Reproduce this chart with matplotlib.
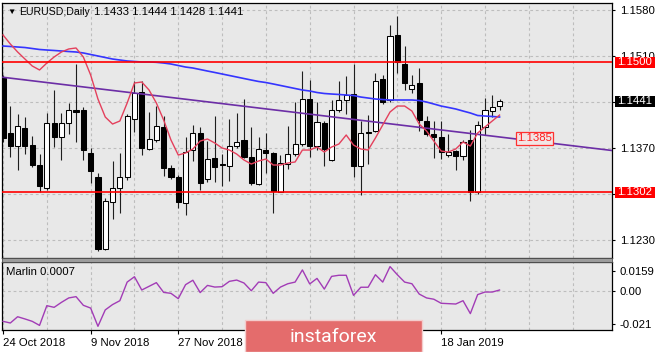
import matplotlib
matplotlib.use("Agg")
import matplotlib.pyplot as plt
import matplotlib.transforms as mtransforms
from matplotlib.patches import Rectangle
import numpy as np

plt.rcParams['font.family'] = ['Liberation Sans', 'DejaVu Sans']
plt.rcParams['font.size'] = 8.2

# ---------------- data ----------------
symbol = "EURUSD,Daily"
last_ohlc = "1.1433 1.1444 1.1428 1.1441"
indicator_name = "Marlin 0.0007"

opens = [1.1476, 1.1392, 1.1373, 1.1400, 1.1374, 1.1343, 1.1308, 1.1407, 1.1387, 1.1407,
         1.1427, 1.1427, 1.1362, 1.1325, 1.1215, 1.1288, 1.1308, 1.1325, 1.1413, 1.1455,
         1.1368, 1.1382, 1.1402, 1.1339, 1.1326, 1.1286, 1.1367, 1.1392, 1.1323, 1.1354,
         1.1345, 1.1342, 1.1372, 1.1382, 1.1356, 1.1315, 1.1367, 1.1362, 1.1303, 1.1345,
         1.1360, 1.1376, 1.1444, 1.1373, 1.1407, 1.1351, 1.1428, 1.1442, 1.1452, 1.1342,
         1.1394, 1.1396, 1.1474, 1.1442, 1.1542, 1.1498, 1.1459, 1.1468, 1.1411, 1.1391,
         1.1387, 1.1359, 1.1365, 1.1358, 1.1381, 1.1302, 1.1402, 1.1426, 1.1433]
highs = [1.1480, 1.1433, 1.1421, 1.1416, 1.1388, 1.1360, 1.1423, 1.1458, 1.1423, 1.1438,
         1.1498, 1.1432, 1.1369, 1.1331, 1.1293, 1.1349, 1.1362, 1.1422, 1.1471, 1.1472,
         1.1425, 1.1434, 1.1418, 1.1344, 1.1328, 1.1387, 1.1405, 1.1401, 1.1380, 1.1418,
         1.1361, 1.1413, 1.1423, 1.1444, 1.1401, 1.1387, 1.1393, 1.1364, 1.1359, 1.1403,
         1.1439, 1.1486, 1.1473, 1.1440, 1.1410, 1.1442, 1.1472, 1.1479, 1.1497, 1.1410,
         1.1420, 1.1484, 1.1481, 1.1557, 1.1571, 1.1525, 1.1481, 1.1491, 1.1418, 1.1411,
         1.1410, 1.1391, 1.1367, 1.1382, 1.1397, 1.1410, 1.1445, 1.1450, 1.1444]
lows = [1.1379, 1.1356, 1.1336, 1.1360, 1.1341, 1.1303, 1.1306, 1.1371, 1.1351, 1.1391,
        1.1379, 1.1351, 1.1316, 1.1213, 1.1214, 1.1262, 1.1270, 1.1321, 1.1394, 1.1359,
        1.1367, 1.1379, 1.1327, 1.1323, 1.1278, 1.1268, 1.1349, 1.1306, 1.1318, 1.1318,
        1.1311, 1.1320, 1.1369, 1.1354, 1.1313, 1.1313, 1.1331, 1.1270, 1.1303, 1.1337,
        1.1358, 1.1372, 1.1356, 1.1367, 1.1342, 1.1350, 1.1425, 1.1422, 1.1325, 1.1298,
        1.1345, 1.1394, 1.1437, 1.1439, 1.1484, 1.1458, 1.1453, 1.1396, 1.1388, 1.1354,
        1.1352, 1.1356, 1.1336, 1.1351, 1.1289, 1.1300, 1.1389, 1.1417, 1.1428]
closes = [1.1384, 1.1373, 1.1403, 1.1372, 1.1343, 1.1311, 1.1408, 1.1387, 1.1407, 1.1427,
          1.1425, 1.1367, 1.1334, 1.1215, 1.1289, 1.1309, 1.1326, 1.1418, 1.1453, 1.1369,
          1.1383, 1.1403, 1.1339, 1.1326, 1.1288, 1.1364, 1.1392, 1.1316, 1.1352, 1.1341,
          1.1343, 1.1373, 1.1378, 1.1356, 1.1316, 1.1368, 1.1362, 1.1304, 1.1347, 1.1360,
          1.1375, 1.1444, 1.1372, 1.1409, 1.1368, 1.1427, 1.1443, 1.1450, 1.1342, 1.1392,
          1.1392, 1.1472, 1.1440, 1.1540, 1.1500, 1.1468, 1.1466, 1.1412, 1.1391, 1.1387,
          1.1364, 1.1364, 1.1358, 1.1378, 1.1303, 1.1405, 1.1427, 1.1432, 1.1441]

ma_blue = [1.15248, 1.15241, 1.15233, 1.15225, 1.15210, 1.15195, 1.15187, 1.15180, 1.15172, 1.15164,
           1.15157, 1.15142, 1.15119, 1.15096, 1.15073, 1.15050, 1.15035, 1.15020, 1.15012, 1.15005,
           1.15005, 1.15000, 1.14989, 1.14974, 1.14951, 1.14928, 1.14913, 1.14890, 1.14867, 1.14845,
           1.14822, 1.14799, 1.14776, 1.14753, 1.14730, 1.14708, 1.14692, 1.14670, 1.14647, 1.14624,
           1.14601, 1.14578, 1.14563, 1.14540, 1.14525, 1.14517, 1.14510, 1.14502, 1.14494, 1.14471,
           1.14456, 1.14441, 1.14433, 1.14426, 1.14426, 1.14426, 1.14426, 1.14418, 1.14395, 1.14365,
           1.14334, 1.14312, 1.14289, 1.14258, 1.14228, 1.14190, 1.14182, 1.14175, 1.14167]

ma_red = [1.15416, 1.15279, 1.15157, 1.15050, 1.14944, 1.14883, 1.14989, 1.15081, 1.15157, 1.15203,
          1.15218, 1.15081, 1.14807, 1.14441, 1.14167, 1.14060, 1.14106, 1.14380, 1.14685, 1.14700,
          1.14578, 1.14380, 1.14121, 1.13817, 1.13588, 1.13619, 1.13680, 1.13801, 1.13832, 1.13771,
          1.13695, 1.13664, 1.13603, 1.13512, 1.13451, 1.13497, 1.13527, 1.13436, 1.13436, 1.13466,
          1.13482, 1.13664, 1.13664, 1.13710, 1.13634, 1.13710, 1.13756, 1.13893, 1.13740, 1.13680,
          1.13664, 1.13847, 1.14045, 1.14243, 1.14334, 1.14334, 1.14258, 1.14060, 1.13954, 1.13801,
          1.13649, 1.13634, 1.13680, 1.13786, 1.13725, 1.13923, 1.14015, 1.14106, 1.14197]

marlin = [-0.0163, -0.0172, -0.0138, -0.0150, -0.0163, -0.0185, -0.0078, -0.0087, -0.0060, -0.0036,
          -0.0029, -0.0076, -0.0091, -0.0190, -0.0101, -0.0072, -0.0051, 0.0050, 0.0079, 0.0007,
          0.0027, 0.0047, -0.0006, -0.0011, -0.0040, 0.0036, 0.0060, -0.0007, 0.0032, 0.0023,
          0.0025, 0.0054, 0.0061, 0.0045, 0.0003, 0.0050, 0.0047, -0.0011, 0.0023, 0.0041,
          0.0050, 0.0116, 0.0040, 0.0070, 0.0012, 0.0081, 0.0087, 0.0087, -0.0022, 0.0022,
          0.0022, 0.0090, 0.0050, 0.0134, 0.0090, 0.0050, 0.0041, -0.0015, -0.0036, -0.0043,
          -0.0065, -0.0067, -0.0069, -0.0051, -0.0121, -0.0018, -0.0004, -0.0004, 0.0007]

resistance = 1.1500
support = 1.1302
last_price = 1.1441
trend_bars = [0, 83.4]
trend_prices = [1.14772, 1.13657]
trend_label = "1.1385"
trend_label_bar = 70.4
trend_label_price = 1.13845

price_ticks = [1.1580, 1.1510, 1.1440, 1.1370, 1.1300, 1.1230]
price_tick_labels = ["1.1580", "1.1510", "", "1.1370", "", "1.1230"]
date_idx = [0, 12, 24, 36, 48, 60]
date_labels = ["24 Oct 2018", "9 Nov 2018", "27 Nov 2018", "", "", "18 Jan 2019"]
marlin_labels = ["0.0159", "0.00", "-0.021"]
marlin_range = (-0.021, 0.0159)

# ---------------- figure ----------------
W, H = 665, 352
fig = plt.figure(figsize=(W / 100, H / 100), dpi=100)
fig.patch.set_facecolor('white')

def fx(px):
    return px / W

def fy(py):
    return 1 - py / H

BG = '#e8e8e8'
GRID = dict(color='#bdbdbd', lw=0.8, ls=(0, (2.5, 2.5)))

ax = fig.add_axes([fx(2), fy(258), fx(612) - fx(2), fy(3) - fy(258)])
ax2 = fig.add_axes([fx(2), fy(330), fx(612) - fx(2), fy(262) - fy(330)], sharex=ax)
for a in (ax, ax2):
    a.set_facecolor(BG)
    for s in a.spines.values():
        s.set_color('black')
        s.set_linewidth(0.9)

x = np.arange(len(opens))
o = np.array(opens); c = np.array(closes); h = np.array(highs); l = np.array(lows)
up = c >= o

ax.vlines(x, l, h, color='#1e1e1e', lw=0.8, zorder=2)
bb = np.minimum(o, c)
bh = np.maximum(np.abs(c - o), 0.00006)
ax.bar(x[up], bh[up], bottom=bb[up], width=0.7, facecolor='white',
       edgecolor='black', lw=0.75, zorder=3)
ax.bar(x[~up], bh[~up], bottom=bb[~up], width=0.7, facecolor='black',
       edgecolor='black', lw=0.75, zorder=3)

ax.plot(x, ma_blue, color='#3535ff', lw=1.2, zorder=4)
ax.plot(trend_bars, trend_prices, color='#6c2ea6', lw=1.2, zorder=4)
ax.plot(x, ma_red, color='#e4405c', lw=1.0, zorder=4)
ax.axhline(resistance, color='#ff0000', lw=1.2, zorder=4)
ax.axhline(support, color='#ff0000', lw=1.2, zorder=4)

ax.text(trend_label_bar, trend_label_price, trend_label, color='#ff2020', fontsize=8.2,
        ha='left', va='center', zorder=6,
        bbox=dict(boxstyle='square,pad=0.12', facecolor='#f2e4e4', edgecolor='#ff3030', lw=0.9))

ax.set_xlim(-0.14, 83.4)
ax.set_ylim(1.12020, 1.15903)

# x ticks / grid
ax2.set_xticks(date_idx)
ax2.set_xticks(np.arange(6, 84, 6), minor=True)
ax2.set_xticklabels(date_labels, ha='left')
ax.tick_params(axis='x', which='both', length=0, labelbottom=False)
ax2.tick_params(axis='x', which='major', length=3, width=0.8, pad=2.5, labelsize=8.2)
ax2.tick_params(axis='x', which='minor', length=0)
for a in (ax, ax2):
    a.grid(True, axis='x', which='both', **GRID)
    a.set_axisbelow(True)

# y axis main
ax.yaxis.tick_right()
ax.set_yticks(price_ticks)
ax.set_yticklabels(price_tick_labels)
ax.tick_params(axis='y', length=2.5, width=0.8, pad=3, labelsize=8.2)
ax.grid(True, axis='y', **GRID)

blend = mtransforms.blended_transform_factory(ax.transAxes, ax.transData)
ppu = (258 - 3) / (1.15903 - 1.12020)  # px per price unit
half = 5.5 / ppu
bx0 = (615 - 2) / 610
bw = (655 - 615) / 610
for val, col in ((resistance, '#ff0000'), (last_price, '#000000'), (support, '#ff0000')):
    ax.add_patch(Rectangle((bx0, val - half), bw, 2 * half, transform=blend,
                           facecolor=col, edgecolor='none', clip_on=False, zorder=7))
    ax.text(bx0 + bw / 2, val, f"{val:.4f}", transform=blend, color='white', fontsize=8.2,
            ha='center', va='center', zorder=8, clip_on=False)

# indicator pane
ax2.plot(x, marlin, color='#a23cb6', lw=1.0, zorder=3)
ax2.axhline(0, **GRID)
ax2.set_ylim(*marlin_range)
ax2.yaxis.tick_right()
rng = marlin_range[1] - marlin_range[0]
ax2.set_yticks([marlin_range[1] - rng * 8.7 / 68, 0, marlin_range[0] + rng * 6 / 68])
ax2.set_yticklabels(marlin_labels)
ax2.tick_params(axis='y', length=2.5, width=0.8, pad=3, labelsize=8.2)

fig.text(fx(6), fy(272), indicator_name, fontsize=8.2, ha='left', va='center')

# separator between panes
fig.patches.append(Rectangle((fx(2), fy(262)), fx(612) - fx(2), fy(258) - fy(262),
                             transform=fig.transFigure, facecolor='#9c9c9c',
                             edgecolor='#505050', lw=0.6, zorder=5))

# title
fig.text(fx(7), fy(12), "\u25bc", fontsize=6, ha='left', va='center')
fig.text(fx(19), fy(12), symbol, fontsize=7.6, ha='left', va='center')
fig.text(fx(94), fy(12), last_ohlc, fontsize=8.2, ha='left', va='center')

# watermark
fig.patches.append(Rectangle((fx(245), fy(352)), fx(422) - fx(245), fy(320) - fy(352),
                             transform=fig.transFigure, facecolor='#e46c6c',
                             edgecolor='#f3cccc', lw=1.0, zorder=10))
fig.text(fx(333), fy(337), "instaforex", color='white', fontsize=14,
         family=['Roboto', 'DejaVu Sans'], ha='center', va='center', zorder=11)

fig.savefig("out.png", dpi=100, facecolor='white')
